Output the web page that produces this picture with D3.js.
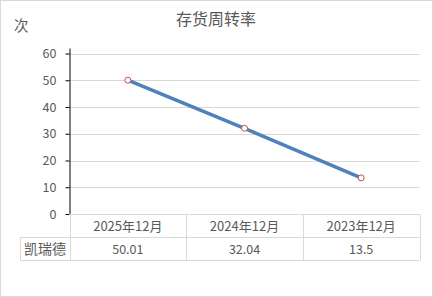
<!DOCTYPE html>
<html><head><meta charset="utf-8">
<script src="https://cdn.jsdelivr.net/npm/d3@7"></script>
<style>
html,body{margin:0;padding:0;background:#fff;}
svg text{font-family:"Microsoft YaHei","Noto Sans CJK SC",sans-serif;}
</style></head>
<body><svg id="c" width="433" height="297"></svg>
<script>
const categories = ["2025年12月","2024年12月","2023年12月"];
const seriesName = "凯瑞德";
const values = [50.01, 32.04, 13.5];
const valueLabels = ["50.01","32.04","13.5"];
const yTicks = [0,10,20,30,40,50,60];
const title = "存货周转率";
const unit = "次";

const svg = d3.select("#c");
const L = 69.5, R = 419.5, T = 53.5, B = 214;
const textColor = "#595959", gridColor = "#d9d9d9";

svg.append("rect").attr("x",0.5).attr("y",0.5).attr("width",432).attr("height",296)
  .attr("fill","#fff").attr("stroke","#d9d9d9");

svg.append("text").attr("x",216).attr("y",25).attr("text-anchor","middle")
  .attr("font-size",16).attr("fill",textColor).text(title);
svg.append("text").attr("x",14).attr("y",31)
  .attr("font-size",14.5).attr("fill",textColor).text(unit);

const x = d3.scaleBand().domain(categories).range([L,R]).padding(0);
const y = d3.scaleLinear().domain([0,60]).range([B,T]);

// gridlines
svg.append("g").selectAll("line").data(yTicks.filter(d=>d>0)).join("line")
  .attr("x1",L).attr("x2",R).attr("y1",d=>Math.round(y(d))+0.5).attr("y2",d=>Math.round(y(d))+0.5)
  .attr("stroke",gridColor).attr("stroke-width",1);

// y axis
const yAxis = d3.axisLeft(y).tickValues(yTicks).tickSize(4).tickPadding(9).tickSizeOuter(0);
const ga = svg.append("g").attr("transform",`translate(${L},0)`).call(yAxis);
ga.select(".domain").attr("stroke","#000").attr("d",`M0.5,${T-5}V${B}`);
ga.selectAll(".tick line").attr("stroke","#000");
ga.selectAll(".tick text").attr("fill",textColor).attr("font-size",12.5)
  .style("font-family","'Microsoft YaHei','Noto Sans CJK SC',sans-serif");
ga.attr("font-family",null);

// table
const tb = svg.append("g");
const rowH = 23;
const tableL = 20.5;
[[L,B],[tableL,B+rowH],[tableL,B+2*rowH]].forEach(([x0,yy])=>{
  tb.append("line").attr("x1",x0).attr("x2",R).attr("y1",Math.round(yy)+0.5).attr("y2",Math.round(yy)+0.5)
    .attr("stroke",gridColor);
});
const vx = categories.map(c=>x(c)).concat([x(categories[2])+x.bandwidth()]);
vx.forEach((xx,i)=>{
  tb.append("line").attr("x1",Math.round(xx)+0.5).attr("x2",Math.round(xx)+0.5)
    .attr("y1", i===0 ? B+1 : B).attr("y2",B+2*rowH+0.5).attr("stroke",gridColor);
});
tb.append("line").attr("x1",tableL).attr("x2",tableL).attr("y1",B+rowH).attr("y2",B+2*rowH+0.5).attr("stroke",gridColor);

tb.selectAll("text.cat").data(categories).join("text").attr("class","cat")
  .attr("x",d=>x(d)+x.bandwidth()/2).attr("y",B+rowH/2+5).attr("text-anchor","middle")
  .attr("font-size",13).attr("fill",textColor).text(d=>d);
tb.selectAll("text.val").data(valueLabels).join("text").attr("class","val")
  .attr("x",(d,i)=>x(categories[i])+x.bandwidth()/2).attr("y",B+rowH*1.5+5).attr("text-anchor","middle")
  .attr("font-size",12.5).attr("fill",textColor).text(d=>d);
tb.append("text").attr("x",(tableL+L)/2).attr("y",B+rowH*1.5+5).attr("text-anchor","middle")
  .attr("font-size",14).attr("fill",textColor).text(seriesName);

// line
const pts = categories.map((c,i)=>[x(c)+x.bandwidth()/2, y(values[i])]);
svg.append("path").attr("d",d3.line()(pts)).attr("fill","none")
  .attr("stroke","#4f81bd").attr("stroke-width",3.5).attr("stroke-linecap","butt");
svg.selectAll("circle").data(pts).join("circle")
  .attr("cx",d=>d[0]).attr("cy",d=>d[1]).attr("r",3)
  .attr("fill","#fff").attr("stroke","#c0504d").attr("stroke-width",1);
</script></body></html>
